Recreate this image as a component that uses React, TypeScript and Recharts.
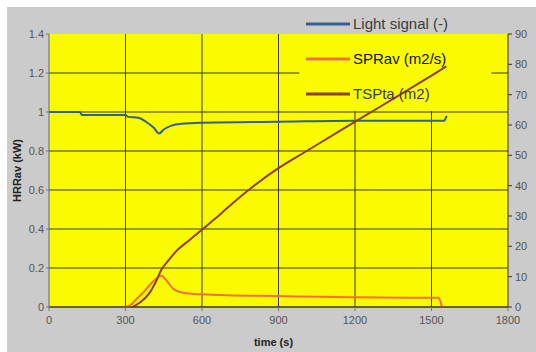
import React from "react";
import {
  LineChart,
  Line,
  XAxis,
  YAxis,
  CartesianGrid,
  Legend,
  ReferenceArea,
} from "recharts";

// x axis
const timeTicks = [0, 300, 600, 900, 1200, 1500, 1800];
const hrrTicks = [0, 0.2, 0.4, 0.6, 0.8, 1, 1.2, 1.4];
const tspTicks = [0, 10, 20, 30, 40, 50, 60, 70, 80, 90];

// Light signal (-), left axis
const lightTime = [0, 120, 130, 300, 310, 350, 380, 410, 432, 450, 480, 520, 600, 900, 1200, 1550, 1556, 1560];
const lightValue = [1.0, 1.0, 0.985, 0.985, 0.975, 0.97, 0.95, 0.92, 0.89, 0.91, 0.93, 0.94, 0.945, 0.95, 0.955, 0.955, 0.97, 0.98];

// SPRav (m2/s), left axis
const sprTime = [300, 320, 342, 370, 400, 425, 440, 455, 470, 486, 510, 540, 600, 700, 900, 1060, 1200, 1400, 1525, 1535, 1540];
const sprValue = [0, 0.01, 0.04, 0.075, 0.12, 0.15, 0.16, 0.145, 0.12, 0.095, 0.078, 0.07, 0.065, 0.06, 0.056, 0.052, 0.05, 0.048, 0.047, 0.03, 0];

// TSPta (m2), right axis
const tspTime = [328, 354, 393, 420, 440, 470, 500, 550, 597, 650, 700, 773, 897, 1014, 1139, 1300, 1400, 1500, 1558];
const tspValue = [0, 1.3, 4.5, 8.5, 12.2, 15.5, 18.5, 22, 25.3, 29, 32.7, 37.9, 45.6, 51.6, 58, 66.1, 71.2, 76.3, 79.3];

const lightData = lightTime.map((t, i) => ({ t, v: lightValue[i] }));
const sprData = sprTime.map((t, i) => ({ t, v: sprValue[i] }));
const tspData = tspTime.map((t, i) => ({ t, v: tspValue[i] }));

const YELLOW = "#fafa00";
const GRID = "#3b3b1c";
const FONT = "Liberation Sans, Arial, sans-serif";

const legendItems = [
  { name: "Light signal (-)", color: "#34608f", text: "#3c3c3c" },
  { name: "SPRav (m2/s)", color: "#f2703e", text: "#111" },
  { name: "TSPta (m2)", color: "#8e3f22", text: "#3a3a3a" },
];

const LegendBox = () => (
  <div style={{ fontFamily: FONT }}>
    {legendItems.map((it) => (
      <div
        key={it.name}
        style={{ height: 35, display: "flex", alignItems: "center" }}
      >
        <svg width={44} height={4} style={{ marginRight: 3 }}>
          <line x1={0} y1={2} x2={44} y2={2} stroke={it.color} strokeWidth={3} />
        </svg>
        <span style={{ fontSize: 15, color: it.text }}>{it.name}</span>
      </div>
    ))}
  </div>
);

const tickStyle = { fontSize: 11, fill: "#555", fontFamily: FONT };

export default function App() {
  return (
    <div
      style={{
        position: "absolute",
        left: 0,
        top: 0,
        width: 536,
        height: 352,
        background: "#ffffff",
      }}
    >
      <div
        style={{
          position: "absolute",
          left: 7,
          top: 7,
          right: 0,
          bottom: 0,
          background: "#cbcbcb",
        }}
      />
      <div style={{ position: "absolute", left: 0, top: 0 }}>
        <LineChart
          width={536}
          height={352}
          margin={{ top: 34, right: 0, bottom: 3, left: 0 }}
        >
          <CartesianGrid
            yAxisId="left"
            fill={YELLOW}
            fillOpacity={1}
            stroke={GRID}
            strokeWidth={1}
            horizontalValues={[0, 0.2, 0.4, 0.6, 0.8, 1, 1.2]}
            verticalValues={[300, 600, 900, 1200, 1500]}
          />
          <XAxis
            dataKey="t"
            type="number"
            domain={[0, 1800]}
            ticks={timeTicks}
            allowDuplicatedCategory={false}
            height={42}
            tick={tickStyle}
            tickSize={4}
            tickMargin={5}
            tickLine={{ stroke: "#777" }}
            axisLine={{ stroke: GRID }}
            label={{
              value: "time (s)",
              position: "insideBottom",
              offset: 3,
              dx: -5,
              style: { fontSize: 11, fontWeight: "bold", fill: "#222", fontFamily: FONT },
            }}
          />
          <YAxis
            yAxisId="left"
            type="number"
            domain={[0, 1.4]}
            ticks={hrrTicks}
            width={49}
            tick={tickStyle}
            tickSize={3}
            tickMargin={2}
            tickLine={{ stroke: "#777" }}
            axisLine={{ stroke: "#666" }}
            label={{
              value: "HRRav (kW)",
              angle: -90,
              position: "insideLeft",
              offset: 17,
              style: {
                textAnchor: "middle",
                fontSize: 11,
                fontWeight: "bold",
                fill: "#222",
                fontFamily: FONT,
              },
            }}
          />
          <YAxis
            yAxisId="right"
            orientation="right"
            type="number"
            domain={[0, 90]}
            ticks={tspTicks}
            width={28}
            tick={tickStyle}
            tickSize={4}
            tickMargin={3}
            tickLine={{ stroke: "#333" }}
            axisLine={{ stroke: "#333" }}
          />
          {/* legend box hides the grid behind it */}
          <ReferenceArea
            yAxisId="left"
            x1={982}
            x2={1735}
            y1={1.005}
            y2={1.4}
            fill={YELLOW}
            fillOpacity={1}
            stroke="none"
          />
          <Line
            yAxisId="left"
            data={lightData}
            dataKey="v"
            type="monotone"
            stroke="#34608f"
            strokeWidth={2}
            dot={false}
            isAnimationActive={false}
          />
          <Line
            yAxisId="left"
            data={sprData}
            dataKey="v"
            type="monotone"
            stroke="#f2703e"
            strokeWidth={2}
            dot={false}
            isAnimationActive={false}
          />
          <Line
            yAxisId="right"
            data={tspData}
            dataKey="v"
            type="monotone"
            stroke="#8e3f22"
            strokeWidth={2}
            dot={false}
            isAnimationActive={false}
          />
          <Legend
            layout="horizontal"
            verticalAlign="middle"
            align="center"
            wrapperStyle={{ top: 6, left: 306, width: 200 }}
            content={() => <LegendBox />}
          />
        </LineChart>
      </div>
    </div>
  );
}
